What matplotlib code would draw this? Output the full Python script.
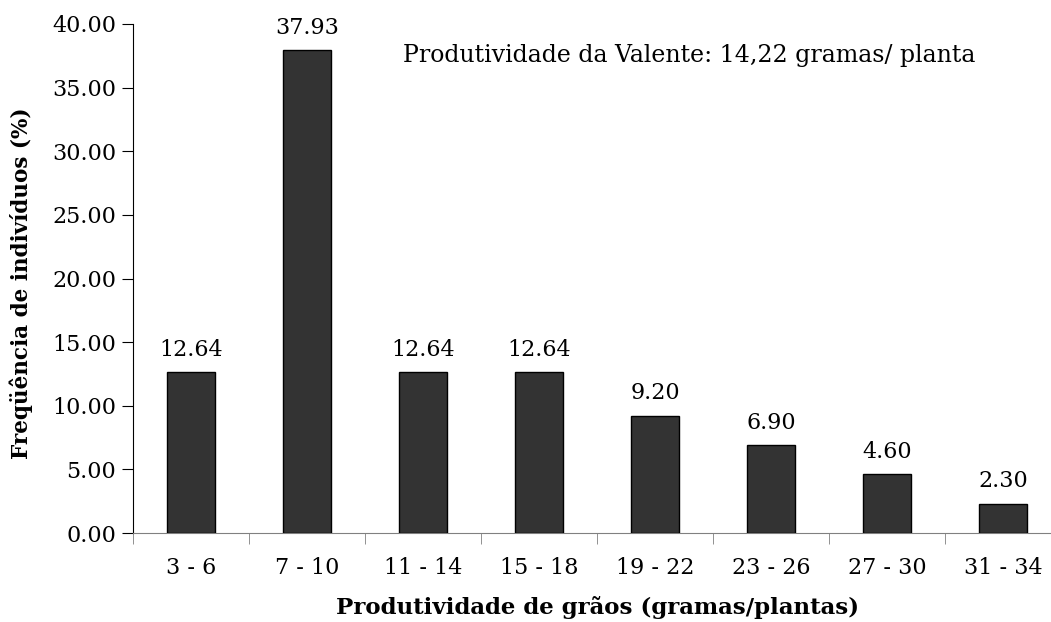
import matplotlib.pyplot as plt
import numpy as np

# ------------------------------------------------------------
# DATA
# ------------------------------------------------------------
classes = ["3 - 6", "7 - 10", "11 - 14", "15 - 18",
           "19 - 22", "23 - 26", "27 - 30", "31 - 34"]
freq = [12.64, 37.93, 12.64, 12.64, 9.20, 6.90, 4.60, 2.30]
yticks = [0, 5, 10, 15, 20, 25, 30, 35, 40]

plt.rcParams['font.family'] = ['DejaVu Serif']

fig = plt.figure(figsize=(10.51, 6.22), dpi=100)
ax = fig.add_axes([133 / 1051, 89 / 622, 928 / 1051, 509 / 622])

x = np.arange(len(classes))

ax.bar(x, freq, width=0.41, color="#333333",
       edgecolor="black", linewidth=1, zorder=3)

# value labels
for xi, v in zip(x, freq):
    ax.text(xi, v + 0.9, f"{v:.2f}", ha="center", va="bottom", fontsize=16)

ax.set_xlim(-0.5, len(classes) - 0.5)
ax.set_ylim(0, 40)

ax.set_yticks(yticks)
ax.set_yticklabels([f"{t:.2f}" for t in yticks])

# category labels centred, tick marks on boundaries
ax.set_xticks(x)
ax.set_xticklabels(classes)
ax.tick_params(axis='x', which='major', length=0, pad=17, labelsize=16)
ax.set_xticks(np.arange(len(classes) + 1) - 0.5, minor=True)
ax.tick_params(axis='x', which='minor', length=8, direction='out',
               color='#808080')
ax.tick_params(axis='y', length=8, direction='out', labelsize=16, pad=4)

ax.spines['top'].set_visible(False)
ax.spines['right'].set_visible(False)
ax.spines['bottom'].set_color('#808080')

ylab = ax.set_ylabel("Freqüência de indivíduos (%)", fontsize=15.5,
                     fontweight='bold')
ylab.set_va('center')
ax.yaxis.set_label_coords(-0.12, 0.49)

xlab = ax.set_xlabel("Produtividade de grãos (gramas/plantas)", fontsize=16.5,
                     fontweight='bold')
xlab.set_va('center')
ax.xaxis.set_label_coords(0.5, -0.147)

ax.text(0.291, 0.939, "Produtividade da Valente: 14,22 gramas/ planta",
        transform=ax.transAxes, fontsize=17, ha='left', va='center')

fig.savefig("out.png", dpi=100)
